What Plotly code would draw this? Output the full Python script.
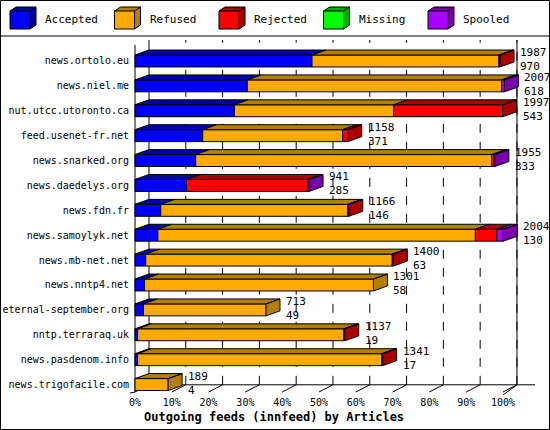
import plotly.graph_objects as go

hosts = ["news.ortolo.eu", "news.niel.me", "nut.utcc.utoronto.ca", "feed.usenet-fr.net",
         "news.snarked.org", "news.daedelys.org", "news.fdn.fr", "news.samoylyk.net",
         "news.mb-net.net", "news.nntp4.net", "eternal-september.org", "nntp.terraraq.uk",
         "news.pasdenom.info", "news.trigofacile.com"]
accepted = [48.1, 30.5, 27.0, 18.4, 16.5, 14.0, 7.0, 6.2, 2.9, 2.6, 2.3, 0.7, 0.7, 0.0]
refused = [50.8, 69.1, 43.3, 38.0, 80.4, 0.0, 50.8, 86.3, 67.0, 62.2, 33.3, 56.0, 66.3, 9.0]
rejected = [0.3, 0.0, 29.6, 1.4, 0.6, 32.9, 0.3, 5.8, 0.3, 0.0, 0.0, 0.3, 0.3, 0.0]
missing = [0] * 14
spooled = [0.0, 0.8, 0.0, 0.0, 0.3, 0.4, 0.0, 1.8, 0.0, 0.0, 0.0, 0.0, 0.0, 0.0]
offered = [1987, 2007, 1997, 1158, 1955, 941, 1166, 2004, 1400, 1301, 713, 1137, 1341, 189]
second = [970, 618, 543, 371, 333, 285, 146, 130, 63, 58, 49, 19, 17, 4]

names = ["Accepted", "Refused", "Rejected", "Missing", "Spooled"]
front = ["#0000ff", "#ffaa00", "#ff0000", "#00ff00", "#aa00ff"]
dark = ["#0000aa", "#b27f00", "#aa0000", "#00aa00", "#7700aa"]
series = [accepted, refused, rejected, missing, spooled]

W, H = 550, 430
ML, MR, MT, MB = 130, 15, 40, 35
DX, DY, HH = 3.8, 0.2, 0.24
FONT = "DejaVu Sans Mono"
YR = [13.42, -0.843]

fig = go.Figure()

# back wall grid and floor
ftop, ffront, fback = YR[1], 13.3, 13.01
for t in range(10, 101, 10):
    fig.add_trace(go.Scatter(x=[t + DX, t + DX], y=[fback, ftop], mode="lines",
                             line=dict(color="black", width=1, dash="dash"),
                             hoverinfo="skip", showlegend=False, cliponaxis=False))
gx, gy = [], []
for t in range(0, 101, 10):
    gx += [t, t + DX, None]
    gy += [ffront, fback, None]
gx += [0, 0, None, DX, DX, None, 100 + DX, 100 + DX, None, -4, 0, None, DX, 109, None, 100, 100 + DX]
gy += [ffront, ftop + 0.2, None, fback, ftop, None, fback, ftop, None, YR[0], ffront, None, fback, fback, None, YR[0], fback]
fig.add_trace(go.Scatter(x=gx, y=gy, mode="lines", line=dict(color="black", width=1),
                         hoverinfo="skip", showlegend=False, cliponaxis=False))

# 3d bars
polys = {k: ([], []) for k in range(5)}
tops = {k: ([], []) for k in range(5)}
for i in range(len(hosts)):
    x0 = 0.0
    last = None
    for k in range(5):
        w = series[k][i]
        if w <= 0:
            continue
        x1 = x0 + w
        px_, py_ = polys[k]
        px_ += [x0, x1, x1, x0, x0, None]
        py_ += [i - HH, i - HH, i + HH, i + HH, i - HH, None]
        tx, ty = tops[k]
        tx += [x0, x1, x1 + DX, x0 + DX, x0, None]
        ty += [i - HH, i - HH, i - HH - DY, i - HH - DY, i - HH, None]
        last = (k, x1)
        x0 = x1
    k, x1 = last
    tx, ty = tops[k]
    tx += [x1, x1 + DX, x1 + DX, x1, x1, None]
    ty += [i - HH, i - HH - DY, i + HH - DY, i + HH, i - HH, None]
    fig.add_annotation(x=x1 + 4.9, y=i - 0.06, xanchor="left", yanchor="middle",
                       text=f"{offered[i]}<br>{second[i]}", showarrow=False, align="left",
                       font=dict(family=FONT, size=11, color="black"))
for k in range(5):
    for d, col in ((polys[k], front[k]), (tops[k], dark[k])):
        if d[0]:
            fig.add_trace(go.Scatter(x=d[0], y=d[1], mode="lines", fill="toself",
                                     fillcolor=col, line=dict(color="black", width=1),
                                     hoverinfo="skip", showlegend=False, cliponaxis=False))

# pixel -> paper (paper is the plot area)
PW, PH = W - ML - MR, H - MT - MB

def px(x):
    return (x - ML) / PW

def py(y):
    return (H - MB - y) / PH

shapes = [dict(type="rect", xref="paper", yref="paper", x0=px(0.5), x1=px(549.5), y0=py(429.5), y1=py(0.5),
               line=dict(color="black", width=1)),
          dict(type="line", xref="paper", yref="paper", x0=px(0), x1=px(550), y0=py(36), y1=py(36),
               line=dict(color="black", width=1))]
for k in range(5):
    lx = 10 + k * 104.5
    shapes.append(dict(type="path", xref="paper", yref="paper",
                       path=f"M{px(lx)},{py(11)} L{px(lx+6)},{py(7)} L{px(lx+26)},{py(7)} L{px(lx+26)},{py(25)} L{px(lx+20)},{py(29)} Z",
                       fillcolor=dark[k], line=dict(color="black", width=1)))
    shapes.append(dict(type="rect", xref="paper", yref="paper", x0=px(lx), x1=px(lx + 20),
                       y0=py(29), y1=py(11), fillcolor=front[k], line=dict(color="black", width=1)))
    shapes.append(dict(type="line", xref="paper", yref="paper", x0=px(lx + 20), x1=px(lx + 26),
                       y0=py(11), y1=py(7), line=dict(color="black", width=1)))
    fig.add_annotation(xref="paper", yref="paper", x=px(lx + 33), y=py(19), xanchor="left",
                       yanchor="middle", text=names[k], showarrow=False,
                       font=dict(family=FONT, size=11, color="black"))

fig.add_annotation(xref="paper", yref="paper", x=px(274), y=py(417), xanchor="center",
                   yanchor="middle", text="<b>Outgoing feeds (innfeed) by Articles</b>",
                   showarrow=False, font=dict(family=FONT, size=12, color="black"))

fig.update_layout(
    width=W, height=H, margin=dict(l=ML, r=MR, t=MT, b=MB),
    paper_bgcolor="white", plot_bgcolor="white", shapes=shapes,
    xaxis=dict(range=[-1.36, 108.7], tickvals=list(range(0, 101, 10)), automargin=False,
               ticktext=[f"{t}%" for t in range(0, 101, 10)], showgrid=False, zeroline=False,
               showline=False, ticks="", tickfont=dict(family=FONT, size=10, color="black")),
    yaxis=dict(range=YR, tickvals=list(range(len(hosts))), ticktext=hosts,
               showgrid=False, zeroline=False, showline=False, ticks="", ticklabelstandoff=0,
               automargin=False, tickfont=dict(family=FONT, size=10, color="black")),
)

fig.write_html("out.html", config={"displayModeBar": False},
               post_script="document.body.style.margin='0px';")
